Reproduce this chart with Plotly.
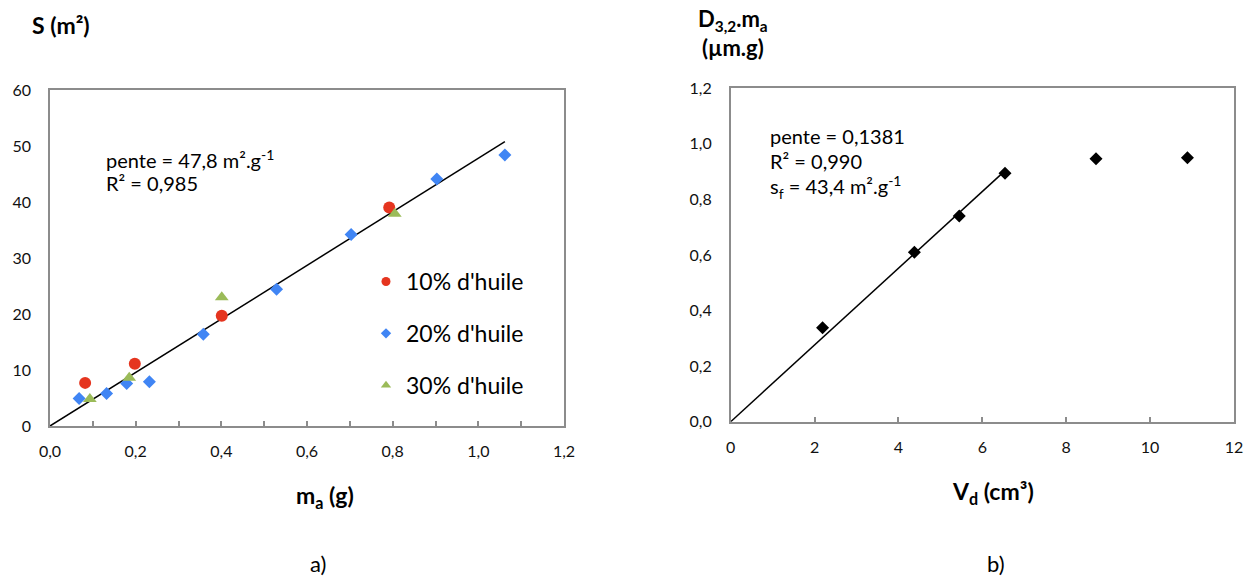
import plotly.graph_objects as go

# page body has an 8px margin: figure is drawn at (8, 8) in the window
OFF = 8
W, H = 1252 - OFF, 577 - OFF
FONT = "Lato"

# ---- Data: chart a) ----
oil10_x = [0.082, 0.198, 0.401, 0.792]
oil10_y = [7.7, 11.1, 19.7, 39.0]
oil20_x = [0.068, 0.132, 0.179, 0.232, 0.358, 0.529, 0.703, 0.903, 1.062]
oil20_y = [4.9, 5.8, 7.6, 7.9, 16.4, 24.4, 34.2, 44.1, 48.4]
oil30_x = [0.093, 0.185, 0.401, 0.805]
oil30_y = [4.8, 8.6, 23.0, 37.9]
slope_a = 47.8
fit_a_x = [0.0, 1.062]
legend_names = ["10% d'huile", "20% d'huile", "30% d'huile"]

# ---- Data: chart b) ----
vd = [2.19, 4.38, 5.45, 6.54, 8.71, 10.89]
d32ma = [0.338, 0.610, 0.740, 0.894, 0.946, 0.950]
slope_b = 0.1381
fit_b_x = [0.0, 6.55]

RED = "#E5351F"
BLUE = "#4085F4"
GREEN = "#9BBB59"
AX = "#8C8C8C"


def px_x(p):
    return (p - OFF) / W


def px_y(p):
    return (H - (p - OFF)) / H


fig = go.Figure()

# chart a
fig.add_trace(go.Scatter(x=fit_a_x, y=[slope_a * v for v in fit_a_x], mode="lines",
                         line=dict(color="black", width=1.5), showlegend=False,
                         xaxis="x", yaxis="y", hoverinfo="skip"))
fig.add_trace(go.Scatter(x=oil10_x, y=oil10_y, mode="markers",
                         marker=dict(symbol="circle", size=12, color=RED),
                         showlegend=False, xaxis="x", yaxis="y"))
fig.add_trace(go.Scatter(x=oil20_x, y=oil20_y, mode="markers",
                         marker=dict(symbol="diamond", size=10, color=BLUE),
                         showlegend=False, xaxis="x", yaxis="y"))
fig.add_trace(go.Scatter(x=oil30_x, y=oil30_y, mode="markers",
                         marker=dict(symbol="triangle-up", size=12, color=GREEN),
                         showlegend=False, xaxis="x", yaxis="y"))
# legend entries (smaller legend symbols)
for name, sym, col, sz, g in [(legend_names[0], "circle", RED, 9, "g1"),
                              (legend_names[1], "diamond", BLUE, 8, "g2"),
                              (legend_names[2], "triangle-up", GREEN, 9, "g3")]:
    fig.add_trace(go.Scatter(x=[None], y=[None], mode="markers", name=name,
                             marker=dict(symbol=sym, size=sz, color=col),
                             legendgroup=g, xaxis="x", yaxis="y"))

# chart b
fig.add_trace(go.Scatter(x=fit_b_x, y=[slope_b * v for v in fit_b_x], mode="lines",
                         line=dict(color="black", width=1.5), showlegend=False,
                         xaxis="x2", yaxis="y2", hoverinfo="skip"))
fig.add_trace(go.Scatter(x=vd, y=d32ma, mode="markers",
                         marker=dict(symbol="diamond", size=10, color="black"),
                         showlegend=False, xaxis="x2", yaxis="y2"))

axis_common = dict(showline=True, linecolor=AX, linewidth=1.5, mirror=True,
                   showgrid=False, zeroline=False, automargin=False,
                   tickfont=dict(family=FONT, size=16, color="#111"))

fig.update_layout(
    width=W, height=H,
    margin=dict(l=0, r=0, t=0, b=0, autoexpand=False),
    paper_bgcolor="white", plot_bgcolor="white",
    separators=", ",
    font=dict(family=FONT, color="black"),
    xaxis=dict(domain=[px_x(50), px_x(564)], range=[0, 1.2], tick0=0, dtick=0.2,
               tickformat=".1f", ticks="inside", ticklen=5, tickcolor=AX, tickwidth=1.5,
               minor=dict(dtick=0.1, ticks="inside", ticklen=5, tickcolor=AX, tickwidth=1.5),
               ticklabelstandoff=10, anchor="y", **axis_common),
    yaxis=dict(domain=[px_y(426), px_y(90)], range=[0, 60], dtick=10, tickformat="d",
               ticks="", ticklabelstandoff=14, anchor="x", **axis_common),
    xaxis2=dict(domain=[px_x(730.7), px_x(1234)], range=[0, 12], tick0=0, dtick=2,
                tickformat="d", ticks="inside", ticklen=5, tickcolor=AX, tickwidth=1.5,
                ticklabelstandoff=10, anchor="y2", **axis_common),
    yaxis2=dict(domain=[px_y(421.7), px_y(88.3)], range=[0, 1.2], dtick=0.2,
                tickformat=".1f", ticks="", ticklabelstandoff=14, anchor="x2", **axis_common),
    legend=dict(x=px_x(366), y=px_y(260), xanchor="left", yanchor="top",
                bgcolor="rgba(0,0,0,0)", font=dict(family=FONT, size=23, color="black"),
                traceorder="grouped", tracegroupgap=19, itemwidth=30),
)

ann = []


def add_text(text, x, y, size, xanchor="left", bold=False, yanchor="middle"):
    if bold:
        text = "<b>" + text + "</b>"
    ann.append(dict(text=text, x=px_x(x), y=px_y(y), xref="paper", yref="paper",
                    xanchor=xanchor, yanchor=yanchor, showarrow=False,
                    font=dict(family=FONT, size=size, color="black")))


# chart a texts
add_text("S (m²)", 61, 25, 23, "center", True)
add_text("m<sub>a</sub> (g)", 325, 496, 23, "center", True)
add_text("a)", 318, 563, 22, "center")
add_text("pente = 47,8 m².g<sup>-1</sup>", 104, 159, 20)
add_text("R² = 0,985", 104, 183, 20)

# chart b texts
add_text("D<sub>3,2</sub>.m<sub>a</sub><br>(µm.g)", 733, 3, 22, "center", True, "top")
add_text("V<sub>d</sub> (cm³)", 993, 492, 23, "center", True)
add_text("b)", 996, 563, 22, "center")
add_text("pente = 0,1381", 768, 136, 20)
add_text("R² = 0,990", 768, 161, 20)
add_text("s<sub>f</sub> = 43,4 m².g<sup>-1</sup>", 768, 187, 20)

fig.update_layout(annotations=ann)

fig.write_html("out.html")
